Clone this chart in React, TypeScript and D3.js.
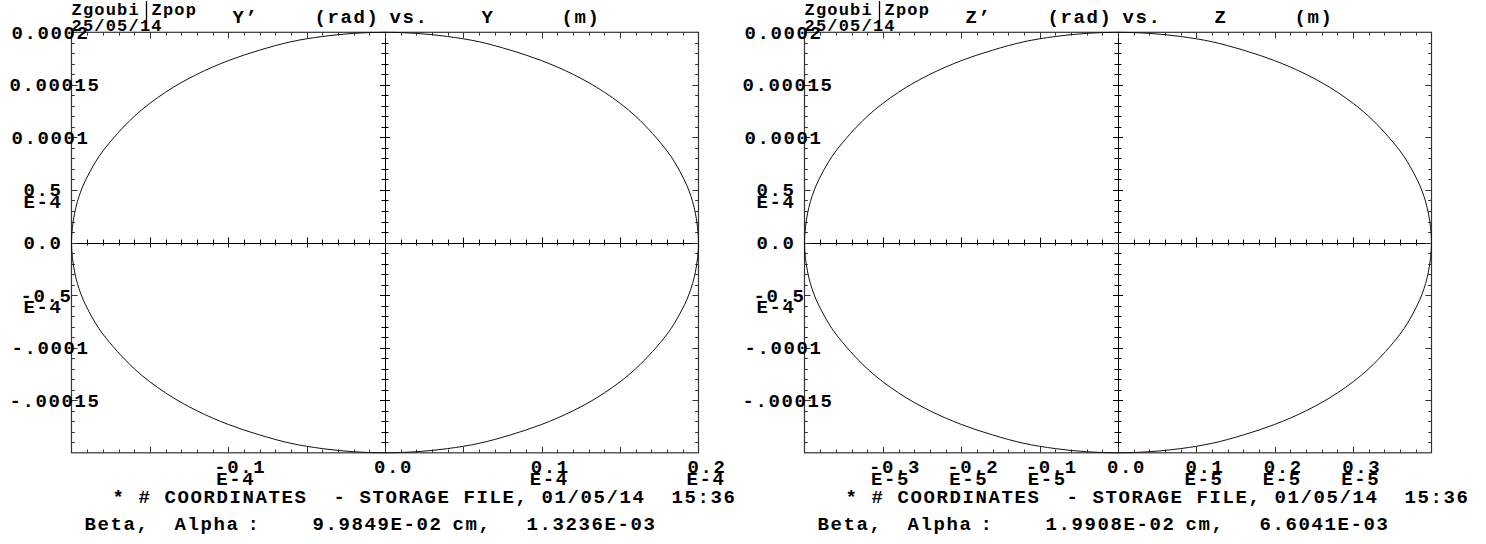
import React from 'react';
import * as d3 from 'd3';

// ---------- data ----------
// Left plot: Y' (rad, units 1e-4) vs Y (m, units 1e-5)
const LEFT_Y_E5 = [-2.00,-1.98,-1.94,-1.88,-1.80,-1.60,-1.40,-1.20,-1.00,-0.80,-0.60,-0.40,-0.20,0.00,0.20,0.40,0.60,0.80,1.00,1.20,1.40,1.60,1.80,1.88,1.94,1.98,2.00,1.98,1.94,1.88,1.80,1.60,1.40,1.20,1.00,0.80,0.60,0.40,0.20,0.00,-0.20,-0.40,-0.60,-0.80,-1.00,-1.20,-1.40,-1.60,-1.80,-1.88,-1.94,-1.98];
const LEFT_YP_E4 = [0.00,0.28,0.49,0.68,0.87,1.20,1.43,1.60,1.73,1.83,1.91,1.96,1.99,2.00,1.99,1.96,1.91,1.83,1.73,1.60,1.43,1.20,0.87,0.68,0.49,0.28,0.00,-0.28,-0.49,-0.68,-0.87,-1.20,-1.43,-1.60,-1.73,-1.83,-1.91,-1.96,-1.99,-2.00,-1.99,-1.96,-1.91,-1.83,-1.73,-1.60,-1.43,-1.20,-0.87,-0.68,-0.49,-0.28];
// Right plot: Z' (rad, units 1e-4) vs Z (m, units 1e-6)
const RIGHT_Z_E6 = [-4.00,-3.96,-3.88,-3.76,-3.60,-3.20,-2.80,-2.40,-2.00,-1.60,-1.20,-0.80,-0.40,0.00,0.40,0.80,1.20,1.60,2.00,2.40,2.80,3.20,3.60,3.76,3.88,3.96,4.00,3.96,3.88,3.76,3.60,3.20,2.80,2.40,2.00,1.60,1.20,0.80,0.40,0.00,-0.40,-0.80,-1.20,-1.60,-2.00,-2.40,-2.80,-3.20,-3.60,-3.76,-3.88,-3.96];
const RIGHT_ZP_E4 = [0.00,0.28,0.49,0.68,0.87,1.20,1.43,1.60,1.73,1.83,1.91,1.96,1.99,2.00,1.99,1.96,1.91,1.83,1.73,1.60,1.43,1.20,0.87,0.68,0.49,0.28,0.00,-0.28,-0.49,-0.68,-0.87,-1.20,-1.43,-1.60,-1.73,-1.83,-1.91,-1.96,-1.99,-2.00,-1.99,-1.96,-1.91,-1.83,-1.73,-1.60,-1.43,-1.20,-0.87,-0.68,-0.49,-0.28];

const Y_TICK_VALUES = [2, 1.5, 1, 0.5, 0, -0.5, -1, -1.5];
const Y_TICK_LABELS = ['0.0002', '0.00015', '0.0001', '0.5', '0.0', '-0.5', '-.0001', '-.00015'];
const Y_TICK_EXP = ['', '', '', 'E-4', '', 'E-4', '', ''];

const LEFT_X_TICK_VALUES = [-1, 0, 1, 2];
const LEFT_X_TICK_LABELS = ['-0.1', '0.0', '0.1', '0.2'];
const LEFT_X_TICK_EXP = ['E-4', '', 'E-4', 'E-4'];

const RIGHT_X_TICK_VALUES = [-3, -2, -1, 0, 1, 2, 3];
const RIGHT_X_TICK_LABELS = ['-0.3', '-0.2', '-0.1', '0.0', '0.1', '0.2', '0.3'];
const RIGHT_X_TICK_EXP = ['E-5', 'E-5', 'E-5', '', 'E-5', 'E-5', 'E-5'];

const HEADER_PROG = ['Zgoubi', 'Zpop'];
const HEADER_DATE = '25/05/14';
const LEFT_TITLE = ['Y\u2019', '(rad)', 'vs.', 'Y', '(m)'];
const RIGHT_TITLE = ['Z\u2019', '(rad)', 'vs.', 'Z', '(m)'];
const FOOTER_LINE = '* # COORDINATES  - STORAGE FILE, 01/05/14  15:36';
const LEFT_BETA = ['Beta,', 'Alpha', ':', '9.9849E-02', 'cm,', '1.3236E-03'];
const RIGHT_BETA = ['Beta,', 'Alpha', ':', '1.9908E-02', 'cm,', '6.6041E-03'];

// ---------- layout ----------
const W = 1486, H = 544;
const FRAME_W = 627, FRAME_H = 420.5;
const FRAME_TOP = 32.3;
const FONT = '"Liberation Mono", "DejaVu Sans Mono", monospace';
const MAIN_FS = 19, MAIN_LS = 1.6;
const SMALL_FS = 17, SMALL_LS = 1.2;
const TITLE_OFFSETS = [161, 243, 318, 410, 490];
const BETA_OFFSETS = [13, 103, 176, 241, 381, 455];

type PlotProps = {
  left: number;
  xs: number[];
  ys: number[];
  xDomain: [number, number];
  xMinor: number;
  xTickValues: number[];
  xTickLabels: string[];
  xTickExp: string[];
  title: string[];
  beta: string[];
};

const txt = (extra: any = {}) => ({
  fontFamily: FONT,
  fontWeight: 700,
  fontSize: MAIN_FS,
  letterSpacing: MAIN_LS,
  fill: '#000',
  style: { whiteSpace: 'pre' as const },
  ...extra,
});

function Plot(p: PlotProps) {
  const x0 = p.left, x1 = p.left + FRAME_W;
  const y0 = FRAME_TOP, y1 = FRAME_TOP + FRAME_H;
  const x = d3.scaleLinear().domain(p.xDomain).range([x0, x1]);
  const y = d3.scaleLinear().domain([-2, 2]).range([y1, y0]);

  const xMinorTicks = d3.range(0, 41).map(i => p.xDomain[0] + i * p.xMinor);
  const yMinorTicks = d3.range(0, 41).map(i => -2 + i * 0.1);

  const pts: [number, number][] = p.xs.map((v, i) => [v, p.ys[i]]);
  const line = d3.line<[number, number]>()
    .x(d => x(d[0]))
    .y(d => y(d[1]))
    .curve(d3.curveCatmullRomClosed.alpha(0.5));

  const frameStroke = '#333';
  const ticks: JSX.Element[] = [];
  xMinorTicks.forEach((v, i) => {
    if (i === 0 || i === 40) return;
    const major = i % 5 === 0;
    const len = major ? 6 : 3.3;
    const px = Math.round(x(v)) + 0.5;
    ticks.push(<line key={'xt' + i} x1={px} x2={px} y1={y0} y2={y0 + len} stroke={frameStroke} strokeWidth={1} />);
    ticks.push(<line key={'xb' + i} x1={px} x2={px} y1={y1} y2={y1 - len} stroke={frameStroke} strokeWidth={1} />);
    const al = major ? 5 : 3;
    ticks.push(<line key={'xa' + i} x1={px} x2={px} y1={y(0) - al} y2={y(0) + al} stroke="#000" strokeWidth={1} />);
  });
  yMinorTicks.forEach((v, i) => {
    if (i === 0 || i === 40) return;
    const major = i % 5 === 0;
    const len = major ? 6 : 3.3;
    const py = Math.round(y(v)) + 0.5;
    ticks.push(<line key={'yl' + i} x1={x0} x2={x0 + len} y1={py} y2={py} stroke={frameStroke} strokeWidth={1} />);
    ticks.push(<line key={'yr' + i} x1={x1} x2={x1 - len} y1={py} y2={py} stroke={frameStroke} strokeWidth={1} />);
    const al = major ? 5 : 3.5;
    ticks.push(<line key={'ya' + i} x1={x(0) - al} x2={x(0) + al} y1={py} y2={py} stroke="#000" strokeWidth={1} />);
  });

  const yLabelStart: Record<number, number> = { 3: -48, 4: -51, 6: -60, 7: -62 };

  return (
    <g>
      {/* header */}
      <text {...txt({ fontSize: SMALL_FS, letterSpacing: SMALL_LS })} x={x0} y={15}>{HEADER_PROG[0]}</text>
      <line x1={x0 + 75} x2={x0 + 75} y1={1} y2={28} stroke="#000" strokeWidth={1.3} />
      <text {...txt({ fontSize: SMALL_FS, letterSpacing: SMALL_LS })} x={x0 + 80} y={15}>{HEADER_PROG[1]}</text>
      <text {...txt({ fontSize: SMALL_FS, letterSpacing: SMALL_LS })} x={x0} y={31}>{HEADER_DATE}</text>
      {p.title.map((t, i) => (
        <text key={'t' + i} {...txt()} x={x0 + TITLE_OFFSETS[i]} y={23}>{t}</text>
      ))}

      {/* frame */}
      <rect x={x0} y={y0} width={FRAME_W} height={FRAME_H} fill="none" stroke={frameStroke} strokeWidth={1.2} />
      {/* zero axes */}
      <line x1={x0} x2={x1} y1={Math.round(y(0)) + 0.5} y2={Math.round(y(0)) + 0.5} stroke="#000" strokeWidth={1} />
      <line x1={Math.round(x(0)) + 0.5} x2={Math.round(x(0)) + 0.5} y1={y0} y2={y1} stroke="#000" strokeWidth={1} />
      {ticks}

      {/* ellipse */}
      <path d={line(pts) || ''} fill="none" stroke="#111" strokeWidth={1} />

      {/* y labels */}
      {Y_TICK_VALUES.map((v, i) => {
        const lab = Y_TICK_LABELS[i];
        const ty = y(v);
        return (
          <g key={'yl' + i}>
            <text {...txt()} x={x0 + (yLabelStart[lab.length] ?? -60)} y={ty + 6.5}>{lab}</text>
            {Y_TICK_EXP[i] && <text {...txt()} x={x0 - 48} y={ty + 18}>{Y_TICK_EXP[i]}</text>}
          </g>
        );
      })}

      {/* x labels */}
      {p.xTickValues.map((v, i) => {
        const lab = p.xTickLabels[i];
        const tx = x(v);
        return (
          <g key={'xl' + i}>
            <text {...txt()} x={tx - 2 - 3 * lab.length} y={y1 + 20.5}>{lab}</text>
            {p.xTickExp[i] && <text {...txt()} x={tx - 12} y={y1 + 32.5}>{p.xTickExp[i]}</text>}
          </g>
        );
      })}

      {/* footer */}
      <text {...txt()} x={x0 + 41} y={503}>{FOOTER_LINE}</text>
      {p.beta.map((t, i) => (
        <text key={'b' + i} {...txt()} x={x0 + BETA_OFFSETS[i]} y={530}>{t}</text>
      ))}
    </g>
  );
}

export default function App() {
  return (
    <svg width={W} height={H} style={{ position: 'absolute', left: 0, top: 0, background: '#fff', display: 'block' }}>
      <rect x={0} y={0} width={W} height={H} fill="#fff" />
      <Plot left={71.5} xs={LEFT_Y_E5} ys={LEFT_YP_E4} xDomain={[-2, 2]} xMinor={0.1}
        xTickValues={LEFT_X_TICK_VALUES} xTickLabels={LEFT_X_TICK_LABELS} xTickExp={LEFT_X_TICK_EXP}
        title={LEFT_TITLE} beta={LEFT_BETA} />
      <Plot left={804.5} xs={RIGHT_Z_E6} ys={RIGHT_ZP_E4} xDomain={[-4, 4]} xMinor={0.2}
        xTickValues={RIGHT_X_TICK_VALUES} xTickLabels={RIGHT_X_TICK_LABELS} xTickExp={RIGHT_X_TICK_EXP}
        title={RIGHT_TITLE} beta={RIGHT_BETA} />
    </svg>
  );
}
